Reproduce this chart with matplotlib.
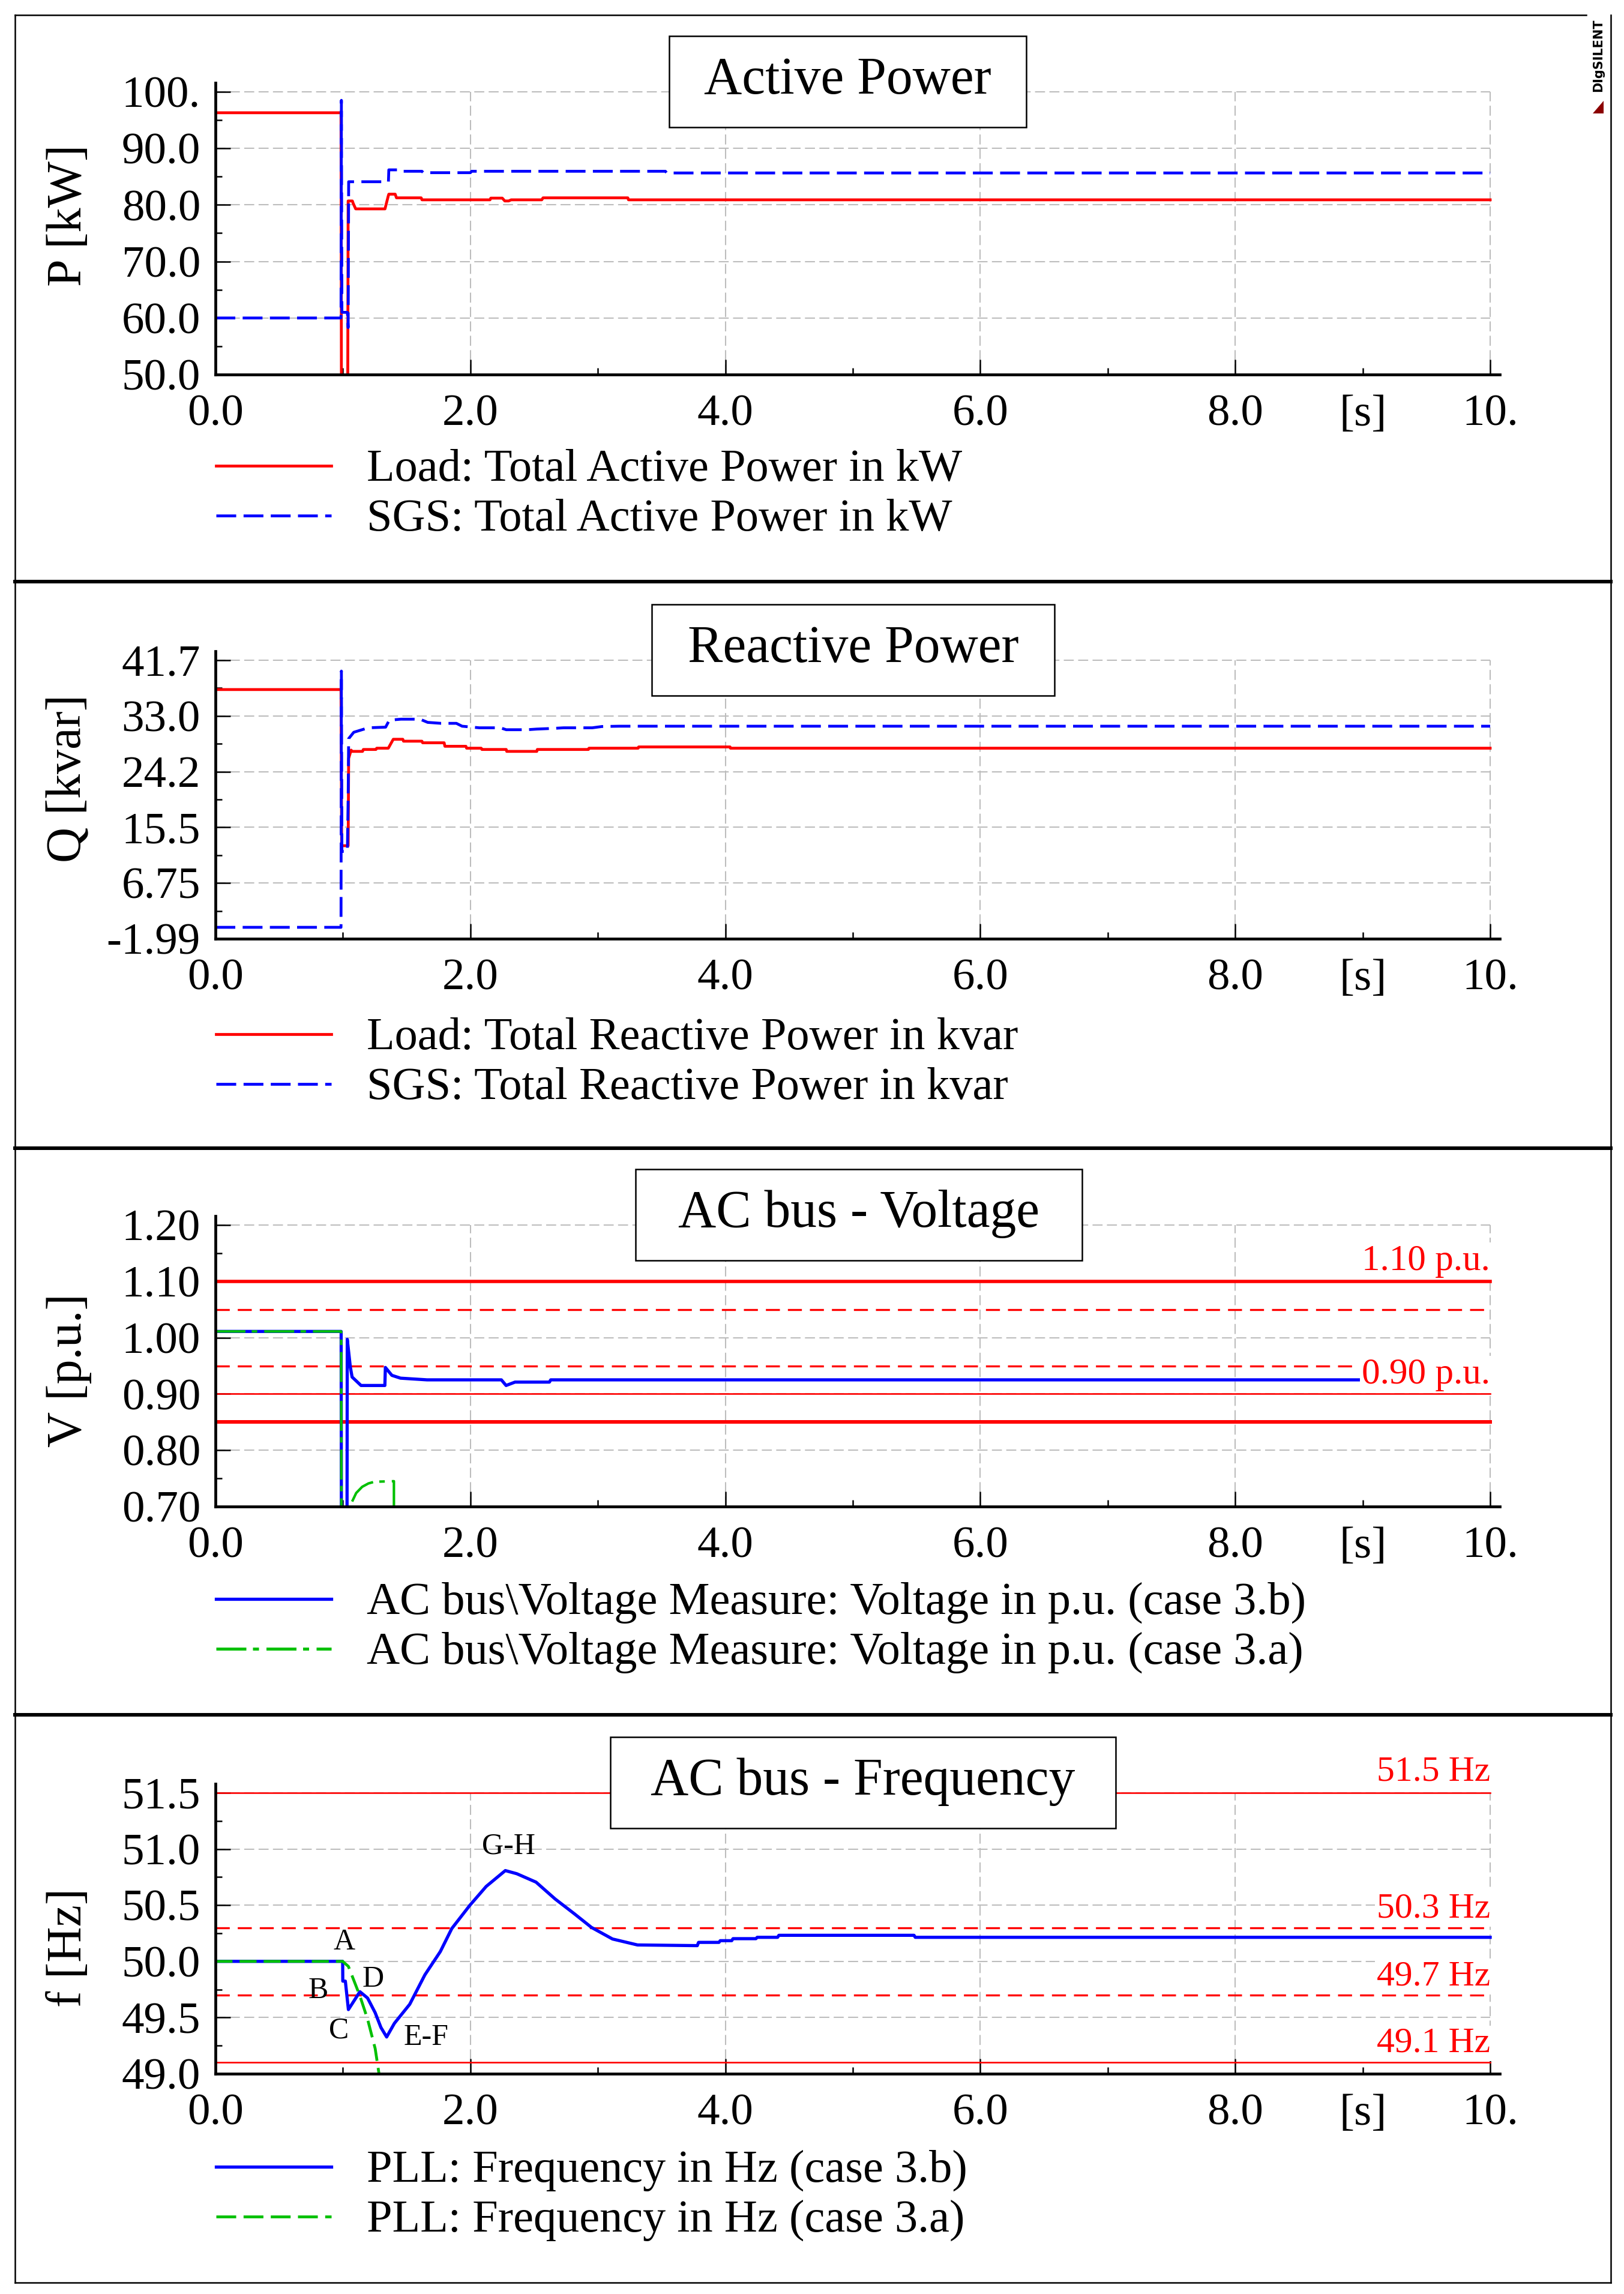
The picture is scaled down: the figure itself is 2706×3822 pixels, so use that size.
import matplotlib
matplotlib.use("Agg")
import matplotlib.pyplot as plt
from matplotlib.lines import Line2D
from matplotlib.patches import Rectangle, Polygon
from matplotlib.transforms import Affine2D

W, H = 2706, 3822

# ---- panel 1: active power ----
p_load_t = [0.0, 0.985, 0.99, 1.035, 1.041, 1.074, 1.08, 1.10, 1.33, 1.357, 1.36, 1.41, 1.42,
            1.614, 1.62, 2.154, 2.16, 2.25, 2.27, 2.30, 2.32, 2.56, 2.57, 3.235, 3.24, 10.0]
p_load = [96.3, 96.3, 20.0, 20.0, 80.7, 80.7, 80.3, 79.3, 79.3, 81.7, 81.9, 81.9, 81.25,
          81.25, 80.9, 80.9, 81.2, 81.2, 80.7, 80.7, 80.9, 80.9, 81.25, 81.25, 80.9, 80.9]
p_sgs_t = [0.0, 0.985, 0.988, 0.992, 1.035, 1.041, 1.045, 1.357, 1.36, 1.45, 1.46, 1.62,
           1.63, 2.0, 2.01, 3.53, 3.54, 10.0]
p_sgs = [60.0, 60.0, 98.5, 61.0, 61.0, 58.3, 84.1, 84.1, 86.2, 86.2, 85.95, 85.95,
         85.7, 85.7, 85.95, 85.95, 85.65, 85.65]

# ---- panel 2: reactive power ----
q_load_t = [0.0, 0.985, 0.99, 1.041, 1.045, 1.064, 1.07, 1.154, 1.16, 1.259, 1.265, 1.356,
            1.395, 1.47, 1.475, 1.62, 1.625, 1.794, 1.8, 1.965, 1.97, 2.085, 2.09, 2.281,
            2.285, 2.521, 2.525, 2.926, 2.93, 3.316, 3.32, 4.037, 4.04, 10.0]
q_load = [37.1, 37.1, 12.6, 12.6, 26.3, 27.6, 27.4, 27.4, 27.7, 27.7, 27.9, 27.9,
          29.3, 29.3, 29.0, 29.0, 28.75, 28.75, 28.2, 28.2, 27.9, 27.9, 27.7, 27.7,
          27.4, 27.4, 27.7, 27.7, 27.9, 27.9, 28.1, 28.1, 27.9, 27.9]
q_sgs_t = [0.0, 0.985, 0.988, 0.992, 1.035, 1.041, 1.045, 1.085, 1.199, 1.335, 1.364, 1.455,
           1.605, 1.665, 1.77, 1.89, 1.935, 2.07, 2.235, 2.281, 2.446, 2.521, 2.641, 2.731,
           2.956, 3.031, 3.166, 10.0]
q_sgs = [-0.2, -0.2, 40.0, 11.7, 11.7, 20.0, 29.4, 30.4, 31.1, 31.2, 32.3, 32.45,
         32.45, 31.95, 31.8, 31.8, 31.35, 31.1, 31.1, 30.8, 30.8, 30.9, 31.0, 31.1,
         31.1, 31.3, 31.35, 31.35]

# ---- panel 3: AC bus voltage ----
v_b_t = [0.0, 0.986, 0.99, 1.03, 1.034, 1.058, 1.072, 1.142, 1.329, 1.333, 1.384, 1.452,
         1.66, 2.243, 2.28, 2.35, 2.62, 2.63, 10.0]
v_b = [1.011, 1.011, 0.3, 0.3, 0.997, 0.948, 0.930, 0.915, 0.915, 0.947, 0.933, 0.928,
       0.925, 0.925, 0.915, 0.921, 0.921, 0.925, 0.925]
v_a_t = [0.0, 0.986, 0.99, 1.058, 1.06, 1.104, 1.151, 1.20, 1.247, 1.40, 1.401]
v_a = [1.011, 1.011, 0.2, 0.2, 0.703, 0.724, 0.735, 0.741, 0.744, 0.745, 0.2]
v_limits = [1.10, 1.05, 0.95, 0.90, 0.85]

# ---- panel 4: AC bus frequency ----
f_b_t = [0.0, 0.998, 0.999, 1.019, 1.043, 1.133, 1.193, 1.253, 1.298, 1.343, 1.404, 1.524,
         1.643, 1.764, 1.854, 1.995, 2.124, 2.274, 2.364, 2.515, 2.665, 2.815, 2.95, 3.115,
         3.311, 3.78, 3.79, 3.95, 3.96, 4.05, 4.06, 4.24, 4.25, 4.41, 4.42, 5.48, 5.49, 10.0]
f_b = [50.0, 50.0, 49.824, 49.824, 49.571, 49.73, 49.674, 49.543, 49.412, 49.327, 49.449,
       49.618, 49.88, 50.087, 50.292, 50.498, 50.667, 50.808, 50.78, 50.705, 50.555, 50.424,
       50.302, 50.199, 50.146, 50.14, 50.169, 50.169, 50.184, 50.184, 50.202, 50.202,
       50.214, 50.214, 50.232, 50.232, 50.214, 50.214]
f_a_t = [0.0, 0.998, 1.043, 1.133, 1.193, 1.253, 1.283, 1.30]
f_a = [50.0, 50.0, 49.955, 49.693, 49.487, 49.224, 49.0, 48.9]
f_limits = [51.5, 50.3, 49.7, 49.1]
f_limit_labels = ["51.5 Hz", "50.3 Hz", "49.7 Hz", "49.1 Hz"]
f_marks = ["A", "B", "C", "D", "E-F", "G-H"]
f_marks_t = [1.012, 0.805, 0.970, 1.238, 1.652, 2.302]
f_marks_f = [50.106, 49.673, 49.318, 49.777, 49.256, 50.96]

x_ticks = [0, 2, 4, 6, 8, 10]
x_ticklabels = ["0.0", "2.0", "4.0", "6.0", "8.0", "10."]
x_minor = [1, 3, 5, 7, 9]
x_minorlabels = ["", "", "", "", "[s]"]

p_ticks = [50, 60, 70, 80, 90, 100]
p_ticklabels = ["50.0", "60.0", "70.0", "80.0", "90.0", "100."]
q_ticks = [-1.99, 6.748, 15.486, 24.224, 32.962, 41.70]
q_ticklabels = ["-1.99", "6.75", "15.5", "24.2", "33.0", "41.7"]
v_ticks = [0.70, 0.80, 0.90, 1.00, 1.10, 1.20]
v_ticklabels = ["0.70", "0.80", "0.90", "1.00", "1.10", "1.20"]
f_ticks = [49.0, 49.5, 50.0, 50.5, 51.0, 51.5]
f_ticklabels = ["49.0", "49.5", "50.0", "50.5", "51.0", "51.5"]

RED = "#ff0000"
BLUE = "#0000ff"
GREEN = "#00c000"
GRID = "#bdbdbd"
DASH = (0, (7, 2.6))

plt.rcParams["font.family"] = ["Liberation Serif", "DejaVu Serif"]

fig = plt.figure(figsize=(W / 100, H / 100), dpi=100)
pix = Affine2D().scale(1 / W, -1 / H).translate(0, 1) + fig.transFigure

X_LEFT, X_RIGHT = 359, 2499
X_END = 10 * (X_RIGHT - X_LEFT) / 2124.0


def make_axes(bottom_px, top_px, ticks, ticklabels):
    lo, hi = ticks[0], ticks[-1]
    top = top_px - 15
    ylim_hi = lo + (hi - lo) * (bottom_px - top) / (bottom_px - top_px)
    ax = fig.add_axes([X_LEFT / W, 1 - bottom_px / H, (X_RIGHT - X_LEFT) / W, (bottom_px - top) / H])
    ax.set_xlim(0, X_END)
    ax.set_ylim(lo, ylim_hi)
    ax.patch.set_alpha(0)
    for s in ["top", "right"]:
        ax.spines[s].set_visible(False)
    for s in ["left", "bottom"]:
        ax.spines[s].set_linewidth(3.4)
        ax.spines[s].set_zorder(6)
    ax.set_xticks(x_ticks)
    ax.set_xticklabels(x_ticklabels)
    ax.set_xticks(x_minor, minor=True)
    ax.set_xticklabels(x_minorlabels, minor=True)
    ax.set_yticks(ticks)
    ax.set_yticklabels(ticklabels)
    ax.set_yticks([(a + b) / 2 for a, b in zip(ticks[:-1], ticks[1:])], minor=True)
    ax.tick_params(which="both", direction="in", width=1.8, labelsize=54, colors="black")
    ax.tick_params(which="major", length=18)
    ax.tick_params(which="minor", length=8)
    ax.tick_params(axis="x", which="both", pad=24)
    ax.tick_params(axis="y", which="both", pad=18)
    # dashed grid, limited to the tick range
    for yv in ticks[1:]:
        ax.plot([0, 10], [yv, yv], color=GRID, lw=1.5, ls=(0, (8, 3.5)), zorder=1)
    for xv in x_ticks[1:]:
        ax.plot([xv, xv], [lo, hi], color=GRID, lw=1.5, ls=(0, (8, 3.5)), zorder=1)
    return ax


def title_box(x0, x1, top_px, text):
    fig.add_artist(Rectangle((x0, top_px - 93), x1 - x0, 152, transform=pix, fc="white",
                             ec="black", lw=1.8, zorder=8))
    fig.text((x0 + x1) / 2, top_px + 3, text, transform=pix, ha="center", va="baseline",
             fontsize=63, zorder=9)


def legend_rows(top_px, styles, labels):
    for i, (st, lab) in enumerate(zip(styles, labels)):
        y = top_px + 623 + 83 * i
        fig.add_artist(Line2D([360, 552], [y, y], transform=pix, **st))
        fig.text(611, y + 25, lab, transform=pix, ha="left", va="baseline", fontsize=55)


# ---- panel 1 ----
ax1 = make_axes(624, 153, p_ticks, p_ticklabels)
ax1.plot(p_load_t, p_load, color=RED, lw=3.4, zorder=3)
ax1.plot(p_sgs_t, p_sgs, color=BLUE, lw=3.4, ls=DASH, zorder=4)
title_box(1115, 1710, 153, "Active Power")
legend_rows(153, [dict(color=RED, lw=3.4), dict(color=BLUE, lw=3.4, ls=DASH)],
            ["Load: Total Active Power in kW", "SGS: Total Active Power in kW"])

# ---- panel 2 ----
ax2 = make_axes(1564, 1100, q_ticks, q_ticklabels)
ax2.plot(q_load_t, q_load, color=RED, lw=3.4, zorder=3)
ax2.plot(q_sgs_t, q_sgs, color=BLUE, lw=3.4, ls=DASH, zorder=4)
title_box(1086, 1757, 1100, "Reactive Power")
legend_rows(1100, [dict(color=RED, lw=3.4), dict(color=BLUE, lw=3.4, ls=DASH)],
            ["Load: Total Reactive Power in kvar", "SGS: Total Reactive Power in kvar"])

# ---- panel 3 ----
ax3 = make_axes(2510, 2041, v_ticks, v_ticklabels)
v_styles = [dict(lw=4.0, ls="-"), dict(lw=2.4, ls=(0, (7, 4))), dict(lw=2.4, ls=(0, (7, 4))),
            dict(lw=1.9, ls="-"), dict(lw=4.3, ls="-")]
for lv, st in zip(v_limits, v_styles):
    ax3.plot([0, 10], [lv, lv], color=RED, zorder=2, **st)
ax3.plot(v_b_t, v_b, color=BLUE, lw=3.8, zorder=3)
ax3.plot(v_a_t, v_a, color=GREEN, lw=3.0, ls=(0, (12, 2.5, 2.2, 2.8)), zorder=4)
ax3.text(10.0, 1.120, "1.10 p.u.", color=RED, fontsize=44, ha="right", va="baseline",
         bbox=dict(fc="white", ec="none", pad=2), zorder=5)
ax3.text(10.0, 0.9186, "0.90 p.u.", color=RED, fontsize=44, ha="right", va="baseline",
         bbox=dict(fc="white", ec="none", pad=2), zorder=5)
title_box(1059, 1803, 2041, "AC bus - Voltage")
legend_rows(2041, [dict(color=BLUE, lw=3.8), dict(color=GREEN, lw=3.6, ls=(0, (10, 2.2, 2, 2.5)))],
            ["AC bus\\Voltage Measure: Voltage in p.u. (case 3.b)",
             "AC bus\\Voltage Measure: Voltage in p.u. (case 3.a)"])

# ---- panel 4 ----
ax4 = make_axes(3455, 2987, f_ticks, f_ticklabels)
f_styles = [dict(lw=1.9, ls="-"), dict(lw=2.4, ls=(0, (7, 4))), dict(lw=2.4, ls=(0, (7, 4))),
            dict(lw=1.9, ls="-")]
f_label_y = [51.61, 50.394, 49.79, 49.195]
for lv, st, lab, ly in zip(f_limits, f_styles, f_limit_labels, f_label_y):
    ax4.plot([0, 10], [lv, lv], color=RED, zorder=2, **st)
    ax4.text(10.0, ly, lab, color=RED, fontsize=43, ha="right", va="baseline",
             bbox=dict(fc="white", ec="none", pad=2), zorder=5, clip_on=False)
ax4.plot(f_b_t, f_b, color=BLUE, lw=3.8, zorder=3)
ax4.plot(f_a_t, f_a, color=GREEN, lw=3.4, ls=(0, (6, 2.5)), zorder=4)
for lab, tx, fy in zip(f_marks, f_marks_t, f_marks_f):
    ax4.text(tx, fy, lab, fontsize=36, ha="center", va="baseline", zorder=6)
title_box(1017, 1859, 2987, "AC bus - Frequency")
legend_rows(2987, [dict(color=BLUE, lw=3.8), dict(color=GREEN, lw=3.4, ls=DASH)],
            ["PLL: Frequency in Hz (case 3.b)", "PLL: Frequency in Hz (case 3.a)"])

# y axis titles
for txt, yc in zip(["P [kW]", "Q [kvar]", "V [p.u.]", "f [Hz]"], [359, 1297, 2283, 3245]):
    fig.text(115, yc, txt, transform=pix, rotation=90, ha="center", va="center", fontsize=59)

# outer frame and panel dividers
frame = dict(transform=pix, color="black", lw=1.8)
fig.add_artist(Line2D([25, 25], [25, 3803], **frame))
fig.add_artist(Line2D([25, 2684], [3803, 3803], **frame))
fig.add_artist(Line2D([2684, 2684], [25, 3803], **frame))
fig.add_artist(Line2D([25, 2643], [25, 25], **frame))
for yd in [969, 1913, 2857]:
    fig.add_artist(Line2D([25, 2684], [yd, yd], transform=pix, color="black", lw=4.3))

# DIgSILENT mark
fig.text(2663, 92, "DIgSILENT", transform=pix, rotation=90, ha="center", va="center",
         fontsize=15, fontweight="bold", family="DejaVu Sans")
fig.add_artist(Polygon([[2654, 189], [2672, 189], [2672, 168]], closed=True, transform=pix,
                       fc="#8b0000", ec="none"))

fig.savefig("out.png", dpi=100)
